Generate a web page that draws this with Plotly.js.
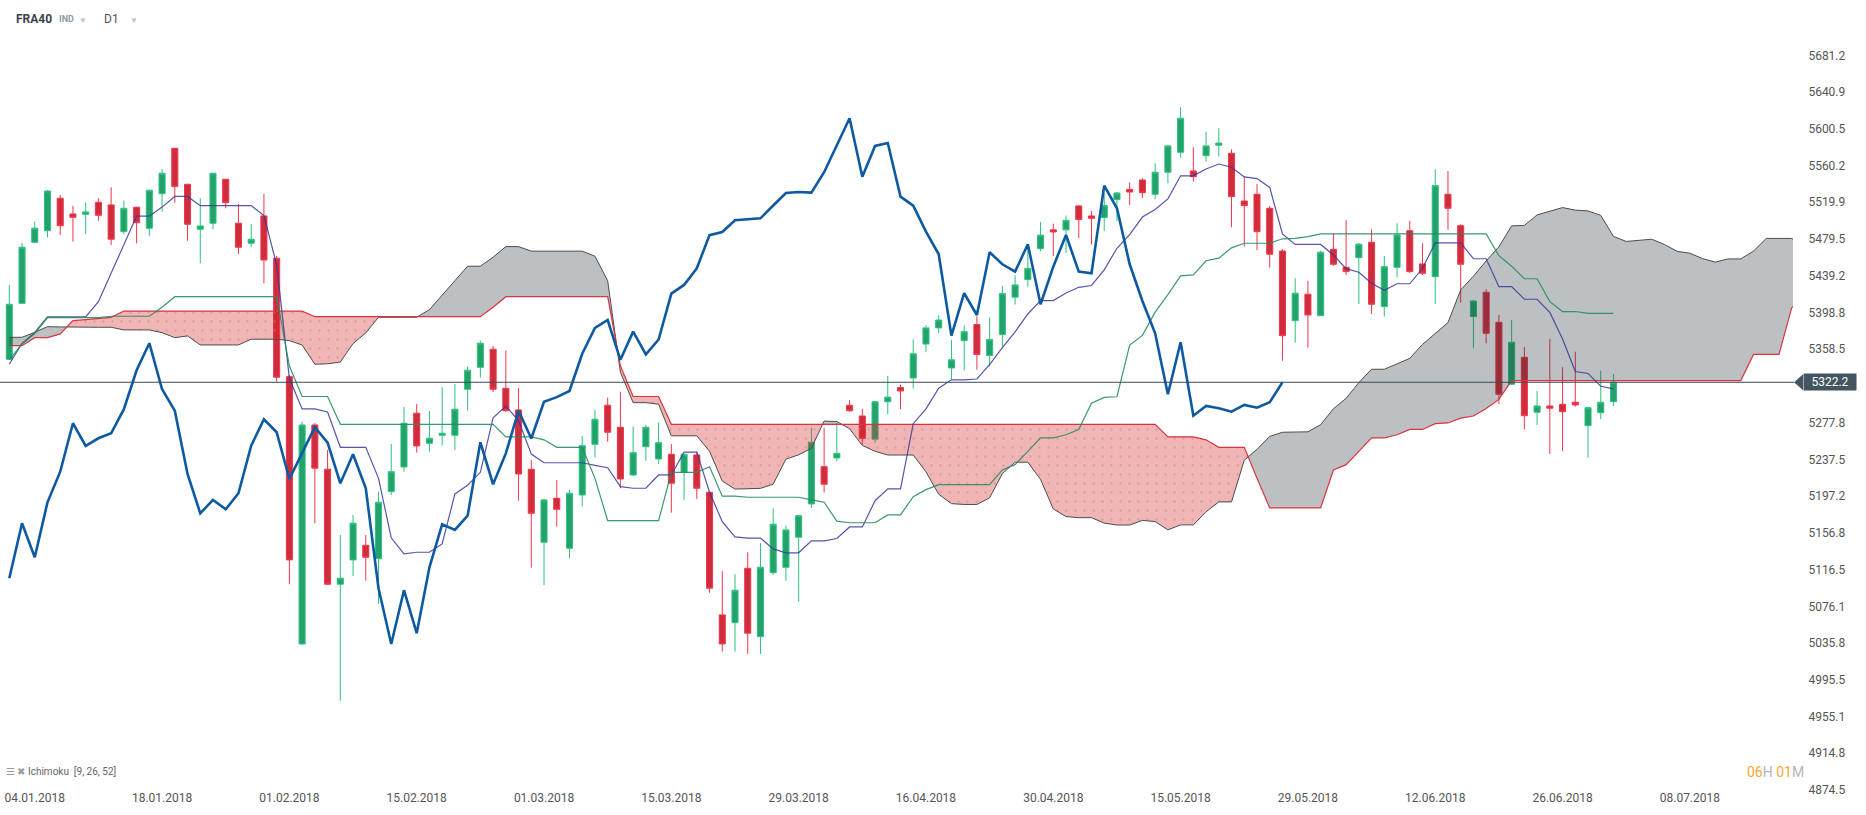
<!DOCTYPE html>
<html><head><meta charset="utf-8">
<script src="https://cdn.plot.ly/plotly-3.0.1.min.js"></script>
<style>html,body{margin:0;padding:0;background:#fff;}#chart{width:1866px;height:815px;}</style>
</head><body><div id="chart"></div>
<script>
const symbol = 'FRA40';
const year = '2018';
const dates = [
 '02.01','03.01','04.01','05.01','08.01','09.01','10.01','11.01','12.01','15.01','16.01','17.01','18.01','19.01','22.01','23.01','24.01','25.01','26.01','29.01','30.01','31.01',
 '01.02','02.02','05.02','06.02','07.02','08.02','09.02','12.02','13.02','14.02','15.02','16.02','19.02','20.02','21.02','22.02','23.02','26.02','27.02','28.02',
 '01.03','02.03','05.03','06.03','07.03','08.03','09.03','12.03','13.03','14.03','15.03','16.03','19.03','20.03','21.03','22.03','23.03','26.03','27.03','28.03','29.03',
 '03.04','04.04','05.04','06.04','09.04','10.04','11.04','12.04','13.04','16.04','17.04','18.04','19.04','20.04','23.04','24.04','25.04','26.04','27.04','30.04',
 '02.05','03.05','04.05','07.05','08.05','09.05','10.05','11.05','14.05','15.05','16.05','17.05','18.05','21.05','22.05','23.05','24.05','25.05','28.05','29.05','30.05','31.05',
 '01.06','04.06','05.06','06.06','07.06','08.06','11.06','12.06','13.06','14.06','15.06','18.06','19.06','20.06','21.06','22.06','25.06','26.06','27.06','28.06','29.06',
 '02.07'];
const futureDates = ['03.07','04.07','05.07','06.07','07.07','08.07','09.07','10.07','11.07','12.07','13.07','14.07','15.07','16.07','17.07'];

const opens = [
 5347.5,5409.0,5476.0,5488.7,5524.3,5507.1,5506.7,5519.9,5517.0,5487.6,
 5514.4,5491.4,5529.4,5579.2,5539.7,5490.3,5496.9,5545.2,5496.9,5474.9,
 5504.9,5458.4,5328.4,5034.8,5275.3,5226.7,5100.4,5127.1,5143.2,5128.5,
 5202.1,5229.2,5288.2,5255.2,5264.0,5264.0,5314.5,5338.7,5358.5,5315.6,
 5291.8,5226.7,5146.5,5194.8,5139.9,5198.4,5254.1,5297.0,5272.8,5220.4,
 5251.5,5238.0,5243.1,5223.4,5242.4,5201.4,5066.7,5058.2,5117.9,5042.8,
 5113.1,5119.0,5152.0,5188.6,5229.5,5239.1,5296.9,5285.2,5259.7,5300.8,
 5316.4,5326.9,5364.2,5381.9,5337.9,5368.0,5385.6,5351.7,5374.7,5415.7,
 5434.9,5469.0,5489.6,5489.6,5515.9,5504.9,5503.2,5523.0,5534.0,5544.4,
 5528.7,5552.9,5574.8,5554.3,5571.1,5582.5,5573.7,5521.3,5528.7,5513.3,
 5466.4,5389.9,5418.9,5395.4,5468.3,5448.5,5459.1,5476.0,5405.3,5448.5,
 5488.7,5452.2,5438.2,5528.7,5494.2,5394.3,5421.1,5388.1,5320.0,5349.7,
 5289.3,5296.2,5298.1,5300.3,5274.6,5288.8,5300.9];
const highs = [
 5429.1,5475.5,5498.6,5533.4,5527.9,5515.9,5519.5,5524.3,5536.4,5521.7,
 5515.1,5533.4,5556.2,5579.5,5540.0,5524.3,5552.1,5545.5,5518.1,5496.1,
 5529.0,5460.9,5330.2,5279.0,5277.5,5247.9,5154.5,5176.5,5154.5,5202.1,
 5254.5,5295.1,5298.4,5290.7,5316.7,5320.4,5339.4,5367.9,5362.1,5356.9,
 5315.6,5236.9,5194.1,5214.9,5203.9,5263.2,5291.8,5305.3,5311.9,5273.5,
 5275.3,5278.3,5254.5,5243.5,5246.0,5201.7,5115.0,5111.4,5135.5,5145.4,
 5183.8,5164.4,5176.5,5272.3,5272.3,5277.3,5302.8,5292.9,5301.7,5329.1,
 5319.6,5369.2,5384.8,5395.8,5368.5,5384.8,5394.6,5393.5,5427.9,5439.6,
 5469.0,5498.3,5496.3,5505.3,5517.0,5510.4,5529.8,5531.2,5541.7,5546.3,
 5562.8,5582.9,5624.3,5580.3,5597.5,5601.2,5578.1,5548.0,5540.0,5515.9,
 5468.3,5436.4,5433.5,5466.8,5485.9,5500.5,5475.2,5490.3,5460.9,5496.9,
 5499.4,5474.9,5556.2,5554.3,5495.8,5412.6,5424.4,5396.1,5390.6,5361.0,
 5312.7,5369.8,5338.7,5355.8,5295.1,5335.0,5331.3];
const lows = [
 5346.7,5408.2,5475.2,5481.5,5484.0,5476.6,5485.1,5499.7,5473.0,5484.8,
 5474.9,5482.9,5509.6,5519.5,5477.7,5452.9,5490.3,5513.3,5463.1,5470.5,
 5431.0,5322.9,5100.4,5033.7,5167.4,5099.6,4972.5,5109.5,5104.3,5078.7,
 5198.4,5224.0,5244.9,5246.0,5252.6,5247.9,5291.0,5327.3,5311.6,5289.6,
 5192.2,5118.6,5099.6,5163.6,5128.9,5185.6,5239.9,5257.0,5205.8,5219.3,
 5236.1,5232.2,5179.0,5193.0,5194.1,5091.1,5026.3,5026.3,5023.8,5023.8,
 5110.6,5104.3,5081.3,5184.2,5201.1,5235.5,5289.6,5253.9,5255.8,5287.1,
 5292.6,5315.3,5355.5,5376.3,5325.4,5335.2,5336.0,5339.9,5361.4,5407.6,
 5427.1,5466.2,5461.0,5464.2,5480.7,5473.6,5488.4,5499.4,5516.9,5524.3,
 5523.2,5540.8,5568.9,5542.5,5564.5,5570.0,5492.5,5471.2,5467.5,5448.1,
 5345.9,5365.7,5360.2,5395.0,5450.0,5440.1,5408.2,5397.2,5394.3,5437.5,
 5442.3,5440.1,5408.2,5489.5,5409.7,5359.6,5365.1,5298.1,5319.2,5270.6,
 5275.3,5243.5,5246.8,5295.4,5239.4,5281.6,5296.2];
const closes = [
 5407.9,5470.5,5491.4,5532.3,5494.2,5503.4,5509.3,5505.6,5479.3,5513.3,
 5497.5,5533.1,5551.8,5537.1,5495.8,5493.9,5551.8,5519.5,5470.5,5479.3,
 5456.5,5327.7,5127.1,5275.3,5227.8,5100.4,5107.0,5167.4,5130.0,5190.4,
 5224.0,5277.2,5252.3,5260.7,5266.2,5292.6,5335.4,5365.1,5314.5,5291.0,
 5221.5,5178.3,5193.0,5182.7,5200.3,5252.6,5281.6,5267.3,5216.0,5244.9,
 5272.8,5255.9,5211.3,5243.1,5205.8,5096.0,5034.8,5093.8,5046.6,5119.0,
 5166.3,5160.0,5175.7,5256.3,5210.2,5244.1,5291.0,5260.5,5300.8,5305.9,
 5312.6,5353.5,5381.9,5390.6,5346.9,5377.8,5352.8,5369.2,5419.6,5429.1,
 5447.4,5483.8,5487.3,5500.1,5501.0,5502.3,5516.4,5530.1,5531.2,5530.5,
 5552.9,5581.8,5612.2,5548.0,5581.8,5585.0,5526.1,5516.2,5487.6,5462.8,
 5373.4,5420.0,5396.1,5465.0,5451.8,5443.7,5473.8,5407.9,5449.2,5484.0,
 5443.7,5441.9,5538.2,5513.3,5451.8,5411.5,5376.0,5309.0,5366.2,5285.5,
 5296.2,5293.7,5289.9,5297.3,5294.3,5300.3,5322.2];

// Ichimoku lines
const tenkan = [
 5342.0,5365.0,5377.0,5394.0,5394.0,5394.0,5394.0,5410.7,5441.6,5472.3,
 5504.7,5504.7,5514.6,5526.3,5526.3,5516.2,5516.2,5516.2,5516.2,5516.2,
 5505.3,5451.2,5326.3,5292.9,5292.9,5289.6,5250.8,5250.8,5250.8,5216.7,
 5151.4,5133.8,5135.5,5135.5,5144.6,5199.6,5209.1,5223.3,5283.2,5296.0,
 5280.1,5243.3,5233.8,5233.8,5233.8,5233.8,5230.9,5228.3,5207.6,5205.8,
 5205.8,5220.4,5220.4,5245.5,5245.5,5201.5,5169.1,5152.3,5151.1,5151.1,
 5139.2,5134.9,5134.9,5148.1,5148.1,5150.6,5163.3,5163.3,5192.1,5205.2,
 5205.2,5276.7,5293.0,5315.7,5324.9,5324.9,5325.8,5341.5,5360.3,5377.5,
 5397.2,5411.9,5411.9,5420.3,5426.5,5428.5,5445.6,5469.4,5484.4,5503.7,
 5511.9,5523.6,5549.0,5549.0,5556.4,5561.9,5558.4,5547.8,5545.9,5536.2,
 5485.1,5473.6,5473.6,5473.6,5462.0,5447.0,5443.0,5430.9,5423.2,5430.4,
 5430.4,5447.4,5475.3,5475.3,5475.3,5457.9,5457.9,5427.2,5427.2,5413.4,
 5413.4,5398.9,5369.7,5334.0,5331.9,5317.8,5315.0];
const kijun = [
 5346.7,5364.3,5375.8,5393.2,5393.2,5393.2,5393.2,5393.2,5394.7,5394.7,
 5394.7,5394.7,5404.6,5416.2,5416.2,5416.2,5416.2,5416.2,5416.2,5416.2,
 5416.2,5416.2,5340.0,5306.6,5306.6,5306.6,5276.0,5276.0,5276.0,5276.0,
 5276.0,5276.0,5276.0,5276.0,5276.0,5276.0,5276.0,5276.0,5276.0,5262.3,
 5262.3,5262.3,5259.0,5250.8,5250.8,5250.8,5216.7,5170.2,5170.2,5170.2,
 5170.2,5170.2,5223.3,5223.3,5223.3,5229.5,5197.1,5197.1,5195.9,5195.9,
 5195.9,5195.9,5195.9,5193.0,5190.4,5169.7,5167.9,5167.9,5167.9,5176.5,
 5176.5,5196.5,5204.3,5209.8,5209.8,5209.8,5209.8,5209.8,5225.9,5231.7,
 5246.4,5261.1,5261.1,5264.6,5270.4,5299.2,5305.6,5306.3,5363.0,5373.7,
 5399.2,5418.4,5439.1,5440.1,5455.7,5458.5,5469.8,5474.9,5474.9,5474.9,
 5479.8,5480.2,5482.1,5485.1,5485.1,5485.1,5485.1,5485.1,5485.1,5485.1,
 5485.1,5485.1,5485.1,5485.1,5485.1,5485.1,5485.1,5461.2,5449.7,5435.9,
 5435.9,5410.8,5399.9,5399.9,5397.8,5397.8,5397.8];
const spanA = [
 5371.6,5371.6,5377.0,5383.3,5383.0,5382.6,5382.6,5382.6,5382.6,5379.7,
 5379.7,5379.7,5376.7,5371.2,5373.1,5363.2,5363.2,5363.2,5363.2,5369.5,
 5369.5,5369.5,5367.9,5363.2,5342.0,5342.5,5344.4,5364.7,5376.4,5393.6,
 5393.6,5393.6,5393.6,5402.0,5418.1,5433.5,5449.7,5449.7,5459.6,5471.2,
 5471.2,5466.2,5466.2,5466.2,5466.2,5466.2,5460.7,5433.7,5333.1,5299.8,
 5299.8,5298.1,5263.4,5263.4,5263.4,5246.4,5213.7,5204.9,5205.7,5205.7,
 5210.3,5237.8,5242.5,5249.7,5279.6,5279.1,5271.2,5252.8,5246.4,5242.3,
 5242.3,5242.3,5223.8,5199.2,5188.9,5188.0,5188.0,5195.3,5221.9,5234.4,
 5234.4,5215.5,5183.1,5174.7,5173.5,5173.5,5167.5,5165.4,5165.4,5170.5,
 5169.2,5160.1,5165.6,5165.6,5180.0,5190.8,5190.8,5236.6,5248.6,5262.7,
 5267.3,5267.3,5267.8,5275.6,5293.1,5304.6,5321.8,5336.5,5336.5,5342.4,
 5348.5,5363.8,5375.6,5387.8,5423.7,5438.7,5455.5,5471.0,5494.0,5494.5,
 5506.0,5510.2,5514.1,5511.3,5510.4,5505.5,5482.4,5476.9,5477.8,5479.3,
 5473.6,5466.0,5464.0,5458.0,5454.2,5457.7,5457.7,5466.3,5480.2,5480.2,
 5480.2,5471.5];
const spanB = [
 5362.4,5362.4,5371.2,5371.2,5375.3,5389.9,5391.1,5392.3,5393.5,5400.4,
 5400.4,5400.4,5400.4,5400.4,5400.4,5400.4,5400.4,5400.4,5400.4,5400.4,
 5400.4,5400.4,5400.4,5400.4,5394.2,5394.2,5394.2,5394.2,5394.2,5394.2,
 5394.2,5394.2,5394.2,5394.2,5394.2,5394.2,5394.2,5394.2,5404.6,5416.2,
 5416.2,5416.2,5416.2,5416.2,5416.2,5416.2,5416.2,5416.2,5340.0,5306.6,
 5306.6,5306.6,5276.0,5276.0,5276.0,5276.0,5276.0,5276.0,5276.0,5276.0,
 5276.0,5276.0,5276.0,5276.0,5276.0,5276.0,5276.0,5276.0,5276.0,5276.0,
 5276.0,5276.0,5276.0,5276.0,5276.0,5276.0,5276.0,5276.0,5276.0,5276.0,
 5276.0,5276.0,5276.0,5276.0,5276.0,5276.0,5276.0,5276.0,5276.0,5276.0,
 5276.0,5262.3,5262.3,5262.3,5259.0,5250.8,5250.8,5250.8,5216.7,5184.2,
 5184.2,5184.2,5184.2,5184.2,5225.9,5231.7,5246.4,5261.1,5261.1,5264.6,
 5270.4,5270.4,5276.8,5277.5,5282.8,5285.1,5293.3,5303.4,5324.1,5324.1,
 5324.1,5324.1,5324.1,5324.1,5324.1,5324.1,5324.1,5324.1,5324.1,5324.1,
 5324.1,5324.1,5324.1,5324.1,5324.1,5324.1,5324.1,5352.8,5352.8,5352.8,
 5404.3,5412.7];
const chikouLag = 26;
const xTickLabels = ['04.01.2018','18.01.2018','01.02.2018','15.02.2018','01.03.2018','15.03.2018','29.03.2018',
 '16.04.2018','30.04.2018','15.05.2018','29.05.2018','12.06.2018','26.06.2018','08.07.2018'];
const yTickVals = [4874.5,4914.8,4955.1,4995.5,5035.8,5076.1,5116.5,5156.8,5197.2,5237.5,5277.8,
 5358.5,5398.8,5439.2,5479.5,5519.9,5560.2,5600.5,5640.9,5681.2];
const lastPrice = 5322.2;

// ---- build traces ----
const allDates = dates.concat(futureDates).map(d => d + '.' + year);
const idx = dates.map((d, i) => i);
const spanX = spanA.map((v, j) => j);
const chikouY = closes.slice(chikouLag);
const chikouX = chikouY.map((v, i) => i);
const tickvals = xTickLabels.map(l => allDates.indexOf(l));

function cloudPoly(top, bot) {
  const xs = [], lo = [], hi = [];
  for (let j = 0; j < top.length; j++) {
    xs.push(j); lo.push(bot[j]); hi.push(Math.max(top[j], bot[j]));
    if (j < top.length - 1) {
      const d0 = top[j] - bot[j], d1 = top[j + 1] - bot[j + 1];
      if (d0 * d1 < 0) {
        const t = d0 / (d0 - d1);
        const yc = bot[j] + t * (bot[j + 1] - bot[j]);
        xs.push(j + t); lo.push(yc); hi.push(yc);
      }
    }
  }
  return {xs, lo, hi};
}
const grayC = cloudPoly(spanA, spanB);
const pinkC = cloudPoly(spanB, spanA);

const traces = [
  {type: 'candlestick', x: idx, open: opens, high: highs, low: lows, close: closes,
   increasing: {line: {color: '#2cc27e', width: 1}, fillcolor: '#23a26c'},
   decreasing: {line: {color: '#f0364a', width: 1}, fillcolor: '#cf2d3e'},
   whiskerwidth: 0, hoverinfo: 'skip', text: allDates.slice(0, dates.length)},
  {type: 'scatter', mode: 'lines', x: grayC.xs, y: grayC.lo, line: {width: 0}, hoverinfo: 'skip'},
  {type: 'scatter', mode: 'lines', x: grayC.xs, y: grayC.hi, line: {width: 0}, fill: 'tonexty',
   fillcolor: 'rgba(32,45,52,0.30)', hoverinfo: 'skip'},
  {type: 'scatter', mode: 'lines', x: pinkC.xs, y: pinkC.lo, line: {width: 0}, hoverinfo: 'skip'},
  {type: 'scatter', mode: 'lines', x: pinkC.xs, y: pinkC.hi, line: {width: 0}, fill: 'tonexty',
   fillcolor: 'rgba(212,29,29,0.33)',
   fillpattern: {shape: '.', bgcolor: 'rgba(212,29,29,0.33)', fgcolor: 'rgba(175,130,130,0.45)', size: 9, solidity: 0.05},
   hoverinfo: 'skip'},
  {type: 'scatter', mode: 'lines', x: spanX, y: spanA, line: {color: '#4d4d4d', width: 1}, hoverinfo: 'skip'},
  {type: 'scatter', mode: 'lines', x: spanX, y: spanB, line: {color: '#d9343f', width: 1.2}, hoverinfo: 'skip'},
  {type: 'scatter', mode: 'lines', x: idx, y: tenkan, line: {color: 'rgba(55,55,155,0.85)', width: 1.2}, hoverinfo: 'skip'},
  {type: 'scatter', mode: 'lines', x: idx, y: kijun, line: {color: 'rgba(38,140,95,0.9)', width: 1.2}, hoverinfo: 'skip'},
  {type: 'scatter', mode: 'lines', x: chikouX, y: chikouY, line: {color: '#0d5aa2', width: 2.6}, hoverinfo: 'skip'}
];

const W = 1793, TOP = 20, BOT = 800, H = BOT - TOP;
const px = p => p / W;
const py = p => (BOT - p) / H;

const layout = {
  width: 1866, height: 815,
  margin: {l: 0, r: 73, t: TOP, b: 815 - BOT, pad: 0},
  paper_bgcolor: '#ffffff', plot_bgcolor: '#ffffff',
  showlegend: false, hovermode: false, dragmode: false,
  boxgap: 0.32,
  font: {family: 'Roboto, "Noto Sans", sans-serif', color: '#555', size: 12},
  xaxis: {range: [-0.73, 140.1], showgrid: false, zeroline: false, showline: false,
    tickmode: 'array', tickvals: tickvals, ticktext: xTickLabels, ticks: '',
    ticklabelstandoff: -11, rangeslider: {visible: false},
    tickfont: {size: 12, color: '#555'}},
  yaxis: {range: [4863.4, 5720.1], side: 'right', showgrid: false, zeroline: false, showline: false,
    tickmode: 'array', tickvals: yTickVals, ticktext: yTickVals.map(v => v.toFixed(1)),
    ticks: 'outside', ticklen: 12, tickcolor: 'rgba(0,0,0,0)',
    tickfont: {size: 12, color: '#555'}},
  shapes: [
    {type: 'line', xref: 'paper', yref: 'y', x0: 0, x1: 1.0006, y0: lastPrice, y1: lastPrice,
     line: {color: '#3b4a55', width: 1}, layer: 'above'},
    {type: 'path', xref: 'paper', yref: 'y', xsizemode: 'pixel', ysizemode: 'pixel',
     xanchor: 1, yanchor: lastPrice, path: 'M 1 0 L 10 8 L 10 -8 Z',
     fillcolor: '#435561', line: {width: 0}, layer: 'above'}
  ],
  annotations: [
    {xref: 'paper', yref: 'paper', x: px(14), y: py(19), xanchor: 'left', yanchor: 'middle', showarrow: false,
     text: '<b>' + symbol + '</b>', font: {size: 12, color: '#3a4550'}},
    {xref: 'paper', yref: 'paper', x: px(57), y: py(19), xanchor: 'left', yanchor: 'middle', showarrow: false,
     text: '<b>IND</b>', font: {size: 9, color: '#8d9ba6'}},
    {xref: 'paper', yref: 'paper', x: px(77), y: py(20), xanchor: 'left', yanchor: 'middle', showarrow: false,
     text: '▼', font: {size: 8, color: '#c2c2c2'}},
    {xref: 'paper', yref: 'paper', x: px(102), y: py(19), xanchor: 'left', yanchor: 'middle', showarrow: false,
     text: 'D1', font: {size: 12, color: '#555'}},
    {xref: 'paper', yref: 'paper', x: px(128), y: py(20), xanchor: 'left', yanchor: 'middle', showarrow: false,
     text: '▼', font: {size: 8, color: '#c2c2c2'}},
    {xref: 'paper', yref: 'paper', x: px(4), y: py(771), xanchor: 'left', yanchor: 'middle', showarrow: false,
     text: '<span style="color:#9a9a9a">☰ ✖</span> Ichimoku  [9, 26, 52]', font: {size: 10, color: '#666'}},
    {xref: 'paper', yref: 'paper', x: px(1806), y: py(772), xanchor: 'right', yanchor: 'middle', showarrow: false,
     text: '<span style="color:#f7a531">06</span><span style="color:#b5b5b5">H </span><span style="color:#f7a531">01</span><span style="color:#b5b5b5">M</span>',
     font: {size: 14, color: '#b5b5b5'}},
    {xref: 'paper', yref: 'y', x: px(1803), y: lastPrice, xanchor: 'left', yanchor: 'middle', showarrow: false,
     text: lastPrice.toFixed(1), bgcolor: '#435561', borderpad: 1, width: 50, height: 14,
     font: {size: 12, color: '#ffffff'}}
  ]
};

Plotly.newPlot('chart', traces, layout, {staticPlot: true, displayModeBar: false});
</script>
</body></html>
